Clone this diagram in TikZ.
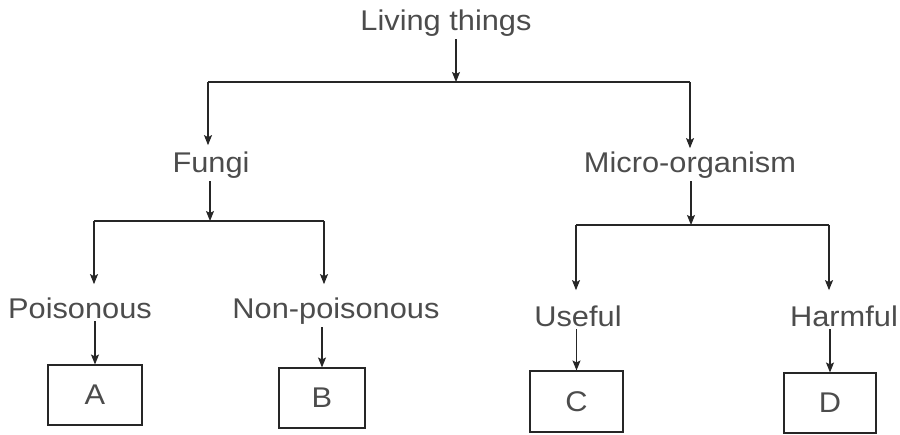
\documentclass[tikz,border=0pt]{standalone}
\usepackage{fontspec}
\setmainfont{Liberation Sans}[FakeStretch=1.08]
\usetikzlibrary{arrows.meta}
\begin{document}
\begin{tikzpicture}[x=1pt,y=-1pt,
  lbl/.style={anchor=base,inner sep=3pt,text=black!70,font=\fontsize{28.5}{30}\selectfont},
  boxnode/.style={draw=black!85,line width=1.1pt,inner sep=0pt,text=black!70,font=\fontsize{28.5}{30}\selectfont},
  conn/.style={draw=black!85,line width=1.1pt},
  arr/.style={conn,-{Stealth[length=10pt,width=8pt,inset=2pt]}}]
\useasboundingbox (0,0) rectangle (900,434);
% labels
\node[lbl] (lt) at (446,30) {Living things};
\node[lbl] (fungi) at (211,172) {Fungi};
\node[lbl] (micro) at (690,172) {Micro-organism};
\node[lbl] (pois) at (80,318) {Poisonous};
\node[lbl] (npois) at (336,318) {Non-poisonous};
\node[lbl] (use) at (578,326) {Useful};
\node[lbl] (harm) at (844,326) {Harmful};
% boxes
\node[boxnode,minimum width=94pt,minimum height=60pt] (A) at (95,395) {A};
\node[boxnode,minimum width=86pt,minimum height=60pt] (B) at (322,398) {B};
\node[boxnode,minimum width=93pt,minimum height=61pt] (C) at (576.5,401.5) {C};
\node[boxnode,minimum width=92pt,minimum height=60pt] (D) at (830,403) {D};
% junctions
\coordinate (t0) at (456,82);
\coordinate (tL) at (208,82);
\coordinate (tR) at (690,82);
\coordinate (f0) at (210,221);
\coordinate (fL) at (94,221);
\coordinate (fR) at (324,221);
\coordinate (m0) at (691,225);
\coordinate (mL) at (576,225);
\coordinate (mR) at (829,225);
% connectors
\draw[arr] (lt.south -| t0) -- (t0);
\draw[conn] (tL) -- (tR);
\draw[arr,shorten >=3pt] (tL) -- (fungi.north -| tL);
\draw[arr,shorten >=0pt] (tR) -- (micro.north -| tR);
\draw[arr] (fungi.south -| f0) -- (f0);
\draw[conn] (fL) -- (fR);
\draw[arr,shorten >=10pt] (fL) -- (pois.north -| fL);
\draw[arr,shorten >=10pt] (fR) -- (npois.north -| fR);
\draw[arr] (micro.south -| m0) -- (m0);
\draw[conn] (mL) -- (mR);
\draw[arr,shorten >=12pt] (mL) -- (use.north -| mL);
\draw[arr,shorten >=12pt] (mR) -- (harm.north -| mR);
\draw[arr] (pois.south -| A.north) -- (A.north);
\draw[arr] (npois.south -| B.north) -- (B.north);
\draw[arr] (use.south -| C.north) -- (C.north);
\draw[arr] (harm.south -| D.north) -- (D.north);
\end{tikzpicture}
\end{document}
